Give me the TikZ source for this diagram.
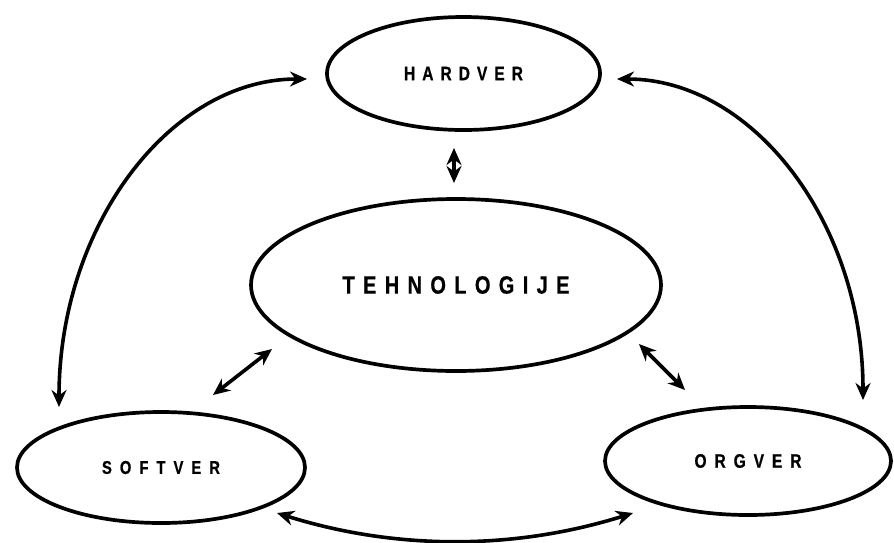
\documentclass[tikz,border=0pt]{standalone}
\usepackage{fontspec}
\newfontfamily\lblfont{Liberation Sans}[FakeStretch=0.8,FakeBold=0.6]
\usetikzlibrary{shapes.geometric,arrows.meta}
% spread the letters of a word evenly over a given width
\newcommand\spreadword[2]{\makebox[#1][s]{#2}}

\begin{document}
\begin{tikzpicture}[x=1pt,y=-1pt,
  bubble/.style={ellipse,draw,line width=3.7pt,inner sep=0pt},
  link/.style={line width=3.6pt,
    {Stealth[length=17pt,width=15pt,inset=5.5pt]}-{Stealth[length=17pt,width=15pt,inset=5.5pt]}},
  lbl/.style={font=\lblfont\bfseries\fontsize{19.5}{20}\selectfont},
  biglbl/.style={font=\lblfont\bfseries\fontsize{25}{26}\selectfont}]

\useasboundingbox (0,0) rectangle (894,542);

% the four bubbles
\node[bubble,lbl,minimum width=273pt,minimum height=113pt] (hw) at (463.5,73.5)
  {\spreadword{119pt}{H\hfil A\hfil R\hfil D\hfil V\hfil E\hfil R}};
\node[bubble,biglbl,minimum width=410pt,minimum height=172pt] (tech) at (456,285)
  {\spreadword{227pt}{T\hfil E\hfil H\hfil N\hfil O\hfil L\hfil O\hfil G\hfil I\hfil J\hfil E}};
\node[bubble,font=\lblfont\bfseries\fontsize{18.5}{19}\selectfont,
      minimum width=288pt,minimum height=111pt] (sw) at (161,467.5)
  {\spreadword{118pt}{S\hfil O\hfil F\hfil T\hfil V\hfil E\hfil R}};
\node[bubble,lbl,minimum width=286pt,minimum height=108pt] (org) at (748,461)
  {\spreadword{107pt}{O\hfil R\hfil G\hfil V\hfil E\hfil R}};

% outer arcs
\draw[link] ([shift={(-156.5,5.5)}]hw.center)
  .. controls +(-137,0) and +(0,-181) .. ([shift={(-102,-60.5)}]sw.center);
\draw[link] ([shift={(153.5,5.5)}]hw.center)
  .. controls +(136,0) and +(0,-177) .. ([shift={(115,-61)}]org.center);
\draw[link] ([shift={(116,45.5)}]sw.center)
  .. controls +(118.7,37.3) and +(-118.7,37.3) .. ([shift={(-115,52)}]org.center);

% short links to the centre
\draw[link] ([shift={(-9.5,74.5)}]hw.center) -- ([shift={(-2,-102)}]tech.center);
\draw[link] ([shift={(52,-72.5)}]sw.center) -- ([shift={(-184,64)}]tech.center);
\draw[link] ([shift={(183,59)}]tech.center) -- ([shift={(-63,-71)}]org.center);
\end{tikzpicture}
\end{document}
